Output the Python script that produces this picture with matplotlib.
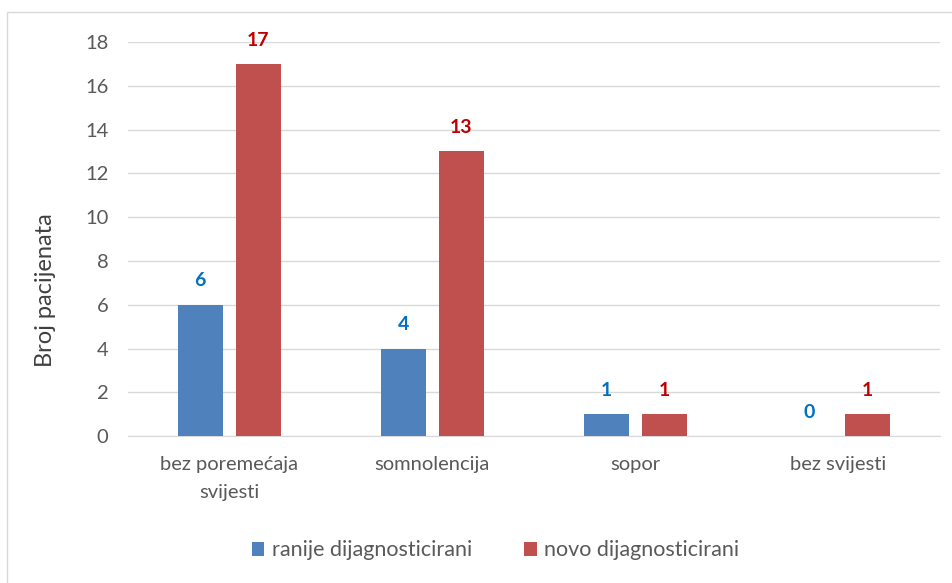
import numpy as np
import matplotlib.pyplot as plt
from matplotlib.patches import Rectangle

# Podaci
kategorije = ['bez poremećaja\nsvijesti', 'somnolencija', 'sopor', 'bez svijesti']
ranije = [6, 4, 1, 0]
novo = [17, 13, 1, 1]
serije = ['ranije dijagnosticirani', 'novo dijagnosticirani']

plt.rcParams['font.family'] = ['Lato', 'DejaVu Sans']

fig = plt.figure(figsize=(9.53, 5.83), dpi=100)
ax = fig.add_axes([0.134, 0.252, 0.852, 0.676])

x = np.arange(len(kategorije))
w = 0.222
off = 0.143
b1 = ax.bar(x - off, ranije, w, color='#4F81BD', label=serije[0], zorder=3)
b2 = ax.bar(x + off, novo, w, color='#C0504D', label=serije[1], zorder=3)

for rect, v in zip(b1, ranije):
    ax.text(rect.get_x() + rect.get_width() / 2, v + 0.7, str(v), ha='center', va='bottom',
            color='#0070C0', fontsize=14, fontweight='bold')
for rect, v in zip(b2, novo):
    ax.text(rect.get_x() + rect.get_width() / 2, v + 0.7, str(v), ha='center', va='bottom',
            color='#C00000', fontsize=14, fontweight='bold')

ax.set_xlim(-0.5, len(kategorije) - 0.5)
ax.set_ylim(0, 18)
ax.set_yticks(range(0, 19, 2))
ax.set_xticks(x)
ax.set_xticklabels(kategorije, fontsize=14.5, color='#595959', linespacing=1.85)
ax.tick_params(axis='y', labelsize=14.5, labelcolor='#595959', length=0, pad=14)
ax.tick_params(axis='x', length=0, pad=14)
ax.grid(axis='y', color='#D9D9D9', linewidth=1, zorder=0)
for s in ['top', 'right', 'left']:
    ax.spines[s].set_visible(False)
ax.spines['bottom'].set_color('#D9D9D9')
ax.set_ylabel('Broj pacijenata', fontsize=17, color='#404040', labelpad=14)
ax.yaxis.set_label_coords(-0.088, 0.37)

ax.legend(loc='center', bbox_to_anchor=(0.453, -0.29), ncol=2, frameon=False,
          fontsize=15.5, labelcolor='#595959', handlelength=0.6, handleheight=0.6,
          handletextpad=0.35, columnspacing=2.4)

# okvir grafikona
fig.patches.append(Rectangle((7 / 953, -0.1), 1.2, 1 - 12 / 583 + 0.1, transform=fig.transFigure,
                             fill=False, edgecolor='#D9D9D9', linewidth=1))

fig.savefig('out.png', dpi=100)
